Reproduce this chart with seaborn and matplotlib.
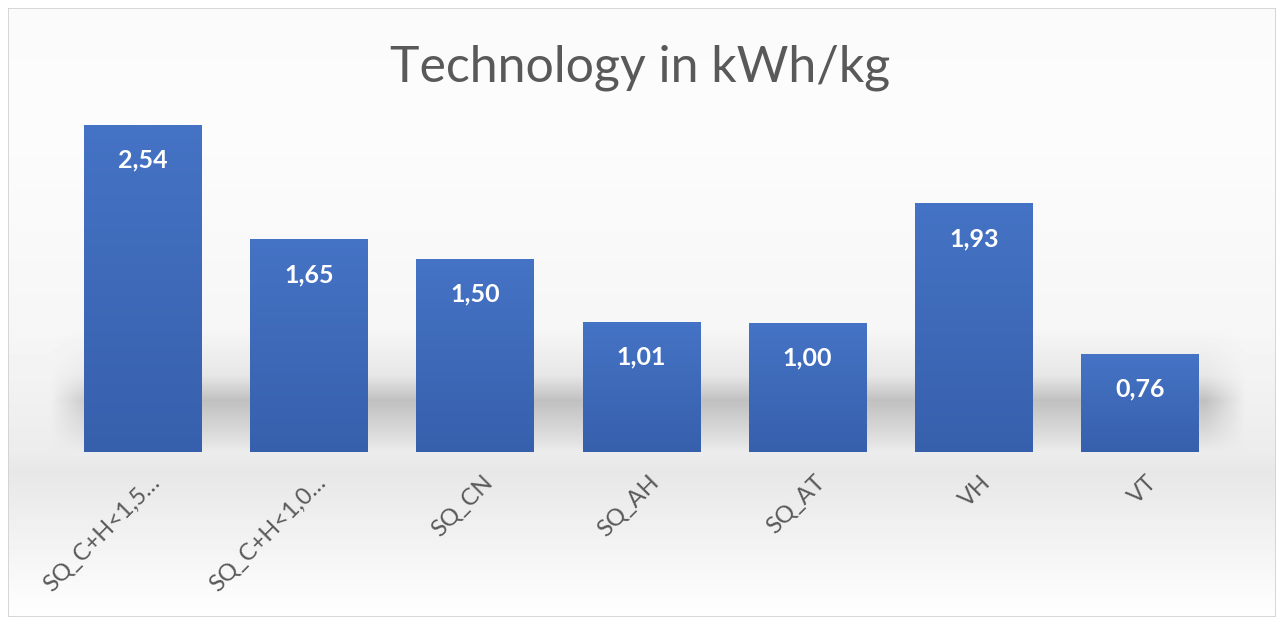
import numpy as np
import seaborn as sns
import matplotlib.pyplot as plt
import matplotlib.transforms as mtransforms
from matplotlib.colors import LinearSegmentedColormap
from matplotlib.patches import Rectangle

categories = ["SQ_C+H<1,5\u2026", "SQ_C+H<1,0\u2026", "SQ_CN", "SQ_AH", "SQ_AT", "VH", "VT"]
values = [2.54, 1.65, 1.50, 1.01, 1.00, 1.93, 0.76]
value_labels = ["2,54", "1,65", "1,50", "1,01", "1,00", "1,93", "0,76"]
title = "Technology in kWh/kg"

sns.set_style("white")
plt.rcParams['font.family'] = ['Lato', 'DejaVu Sans']

W, H = 1284, 625
fig = plt.figure(figsize=(W / 100, H / 100), dpi=100)

# background: light vertical gradient with a grey "shadow" band near the baseline
bg = fig.add_axes([0, 0, 1, 1], zorder=0)
bg.set_axis_off()
ys = np.arange(H)
xs = np.arange(W)
base = np.interp(ys, [0, 120, 330, 452, 470, 600, 625],
                 [250, 252, 246, 236, 231, 252, 255])
band = np.interp(ys, [330, 375, 400, 430, 452], [0, 12, 48, 22, 0])
xmask = np.interp(xs, [0, 50, 95, 1205, 1245, W], [0, 0, 1, 1, 0, 0])
img = (base[:, None] - band[:, None] * xmask[None, :]) / 255.0
bg.imshow(img, cmap="gray", vmin=0, vmax=1, extent=[0, W, H, 0], aspect="auto")
bg.set_xlim(0, W)
bg.set_ylim(H, 0)
bg.add_patch(Rectangle((8, 8), W - 16, H - 16, fill=False, edgecolor="#d0d0d0", linewidth=1.2))
# white outside the border
for r in [(0, 0, W, 8), (0, H - 8, W, 8), (0, 0, 8, H), (W - 8, 0, 8, H)]:
    bg.add_patch(Rectangle(r[:2], r[2], r[3], facecolor="white", edgecolor="none"))

px_per_unit = 128.6
ax = fig.add_axes([60 / W, (H - 452) / H, 1163 / W, 352 / H], zorder=1)
ax.patch.set_alpha(0)
sns.barplot(x=categories, y=values, width=0.71, color="#4472C4", ax=ax)
ymax = 352 / px_per_unit

bar_cmap = LinearSegmentedColormap.from_list("bar", ["#3760AC", "#4573C5"])
grad = np.linspace(0, 1, 256)[:, None]
for p in ax.patches:
    x0, w, h = p.get_x(), p.get_width(), p.get_height()
    ax.imshow(grad, cmap=bar_cmap, origin="lower", extent=[x0, x0 + w, 0, h],
              aspect="auto", zorder=2)
    p.set_facecolor("none")
    p.set_edgecolor("none")
ax.set_ylim(0, ymax)
ax.set_xlim(-0.5, len(categories) - 0.5)

for i, (v, lab) in enumerate(zip(values, value_labels)):
    ax.annotate(lab, (i, v), xytext=(0, -35), textcoords="offset pixels",
                ha="center", va="center", color="white", fontsize=18,
                fontweight="bold", zorder=3)

ax.set_xticks(range(len(categories)))
ax.set_xticklabels(categories, rotation=45, ha="right", rotation_mode="anchor",
                   color="#595959", fontsize=17)
ax.tick_params(axis="x", length=0, pad=14)
shift = mtransforms.ScaledTranslation(6 / 100, 0, fig.dpi_scale_trans)
for t in ax.get_xticklabels():
    t.set_transform(t.get_transform() + shift)
ax.set_yticks([])
ax.set_xlabel("")
ax.set_ylabel("")
sns.despine(ax=ax, left=True, bottom=True)

fig.text(640 / W, (H - 68) / H, title, ha="center", va="center",
         fontsize=36, color="#595959")

fig.savefig("out.png", dpi=100)
